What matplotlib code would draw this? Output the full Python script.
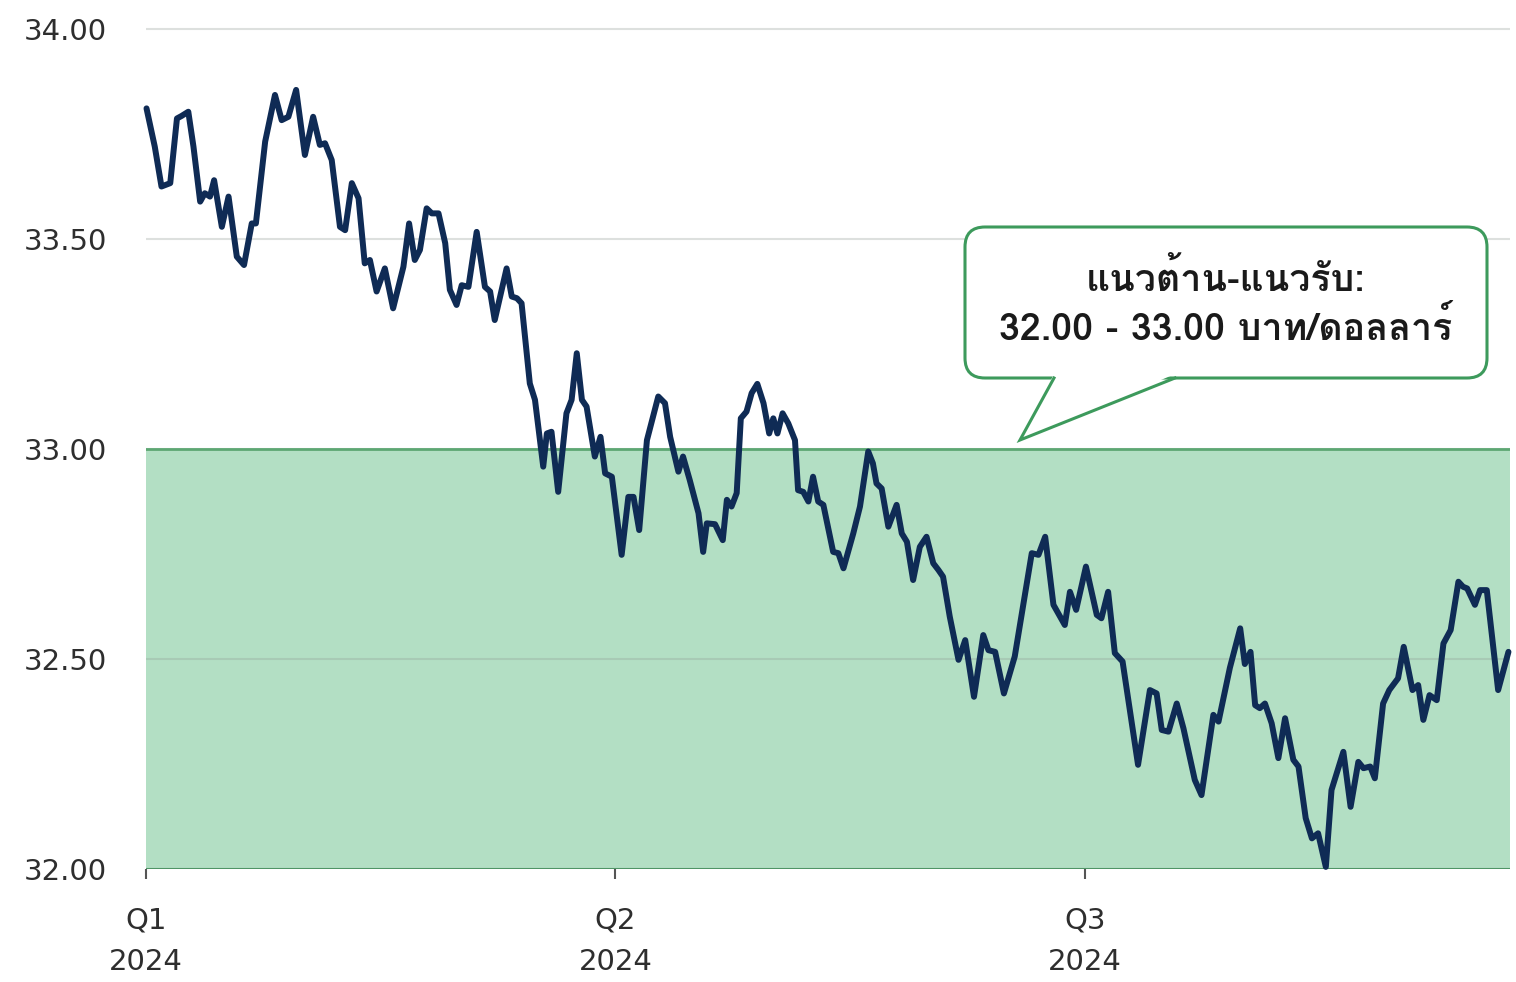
import numpy as np
import matplotlib
matplotlib.use("Agg")
import matplotlib.pyplot as plt
from matplotlib import font_manager
from matplotlib.ft2font import FT2Font
from matplotlib.patches import FancyBboxPatch, Polygon

# days since 1 Jan 2024, USD/THB
days = [0.1, 1.7, 3.0, 4.7, 6.0, 6.9, 8.2, 9.2, 10.5, 11.4, 12.4, 13.2, 14.7, 16.0, 17.6, 19.0,
        20.5, 21.3, 23.1, 25.0, 26.3, 27.6, 29.1, 30.8, 32.4, 33.7, 34.7, 36.0, 37.6, 38.6, 39.9,
        41.2, 42.4, 43.4, 44.7, 46.3, 47.9, 49.9, 51.0, 52.1, 53.1, 54.4, 55.4, 56.7, 58.0, 58.9,
        60.2, 61.2, 62.5, 64.1, 65.7, 66.7, 67.6, 69.9, 70.9, 71.9, 72.8, 74.4, 75.4, 77.0, 77.7,
        78.6, 79.9, 81.5, 82.5, 83.5, 84.5, 85.4, 87.0, 88.1, 89.0, 90.3, 92.2, 93.5, 94.5, 95.6,
        97.1, 99.3, 100.6, 101.6, 103.2, 104.1, 105.4, 107.1, 108.0, 108.7, 110.3, 111.8, 112.6,
        113.5, 114.5, 115.3, 116.4, 117.4, 118.5, 119.7, 120.8, 121.6, 122.4, 123.4, 124.5, 125.8,
        126.4, 127.4, 128.4, 129.3, 130.3, 131.3, 133.2, 134.2, 135.2, 137.1, 138.4, 140.0, 140.9,
        141.6, 142.6, 143.9, 145.5, 146.5, 147.5, 148.7, 150.0, 151.3, 152.6, 153.6, 154.5, 155.8,
        157.5, 158.8, 160.5, 162.3, 163.3, 164.6, 166.3, 168.4, 171.7, 173.0, 174.3, 175.9, 178.1,
        179.1, 180.3, 182.2, 184.3, 185.2, 186.5, 187.8, 189.3, 192.3, 194.6, 195.9, 196.9, 198.2,
        199.8, 201.1, 203.3, 204.6, 206.9, 207.9, 210.1, 212.1, 213.0, 214.1, 215.0, 215.9, 216.9,
        218.2, 219.5, 220.8, 222.4, 223.4, 224.8, 226.0, 227.2, 228.7, 229.8, 232.1, 233.5, 235.0,
        236.0, 237.3, 238.2, 239.8, 241.0, 242.7, 243.8, 245.5, 246.6, 247.6, 248.8, 250.2, 251.5,
        252.9, 254.4, 255.3, 256.1, 257.6, 258.6, 259.9, 262.1, 264.1]
rate = [33.811, 33.720, 33.625, 33.633, 33.787, 33.793, 33.803, 33.720, 33.589, 33.609, 33.601,
        33.640, 33.529, 33.601, 33.458, 33.438, 33.537, 33.537, 33.732, 33.843, 33.783, 33.791,
        33.855, 33.700, 33.791, 33.724, 33.728, 33.688, 33.529, 33.521, 33.633, 33.597, 33.442,
        33.450, 33.375, 33.430, 33.335, 33.434, 33.537, 33.450, 33.474, 33.573, 33.561, 33.561,
        33.490, 33.379, 33.343, 33.390, 33.386, 33.517, 33.386, 33.375, 33.307, 33.430, 33.363,
        33.359, 33.347, 33.156, 33.117, 32.958, 33.037, 33.041, 32.898, 33.085, 33.117, 33.228,
        33.117, 33.101, 32.982, 33.029, 32.942, 32.934, 32.748, 32.886, 32.886, 32.807, 33.021,
        33.125, 33.109, 33.029, 32.946, 32.982, 32.926, 32.847, 32.755, 32.823, 32.821, 32.783,
        32.879, 32.863, 32.895, 33.073, 33.089, 33.133, 33.155, 33.109, 33.037, 33.073, 33.037,
        33.085, 33.061, 33.021, 32.902, 32.898, 32.875, 32.934, 32.875, 32.867, 32.755, 32.752,
        32.716, 32.799, 32.863, 32.994, 32.966, 32.918, 32.906, 32.815, 32.867, 32.799, 32.779,
        32.688, 32.767, 32.791, 32.728, 32.712, 32.696, 32.601, 32.498, 32.545, 32.410, 32.557,
        32.521, 32.517, 32.418, 32.506, 32.752, 32.748, 32.791, 32.629, 32.581, 32.660, 32.617,
        32.720, 32.605, 32.597, 32.660, 32.514, 32.494, 32.248, 32.426, 32.418, 32.331, 32.327,
        32.394, 32.335, 32.212, 32.176, 32.367, 32.351, 32.479, 32.573, 32.488, 32.517, 32.390,
        32.383, 32.394, 32.347, 32.264, 32.359, 32.260, 32.244, 32.121, 32.073, 32.085, 32.005,
        32.188, 32.279, 32.148, 32.255, 32.240, 32.244, 32.216, 32.394, 32.426, 32.454, 32.529,
        32.426, 32.438, 32.355, 32.414, 32.402, 32.537, 32.569, 32.684, 32.672, 32.668, 32.629,
        32.664, 32.664, 32.426, 32.517]

band_low, band_high = 32.00, 33.00
y_ticks = [32.0, 32.5, 33.0, 33.5, 34.0]
q_days = [0, 91, 182]
q_labels = ["Q1\n2024", "Q2\n2024", "Q3\n2024"]
callout_lines = "แนวต้าน-แนวรับ:\n32.00 - 33.00 บาท/ดอลลาร์"


def find_thai_font():
    for path in sorted(font_manager.findSystemFonts()):
        try:
            if 0x0E01 in FT2Font(path).get_charmap():
                return font_manager.FontProperties(fname=path).get_name()
        except Exception:
            continue
    return None


thai = find_thai_font()
thai_family = [thai, "DejaVu Sans"] if thai else ["DejaVu Sans"]

fig = plt.figure(figsize=(15.16, 9.82), dpi=100)
ax = fig.add_axes([146 / 1516, 113 / 982, 1364 / 1516, 861 / 982])
ax.set_xlim(0, 264.4)
ax.set_ylim(32, 34.05)

ax.axhspan(band_low, band_high, color="#b3dfc4", zorder=1, lw=0)
for y in y_ticks:
    ax.axhline(y, color="#8f9a94", alpha=0.3, lw=1.5, zorder=2)
ax.axhline(band_high, color="#5da773", lw=2, zorder=3)
ax.axhline(band_low, color="#4f9566", lw=2.2, zorder=3)

ax.plot(days, rate, color="#0f2b55", lw=4.3, solid_joinstyle="round",
        solid_capstyle="round", zorder=4, clip_on=False)

for s in ax.spines.values():
    s.set_visible(False)
ax.set_yticks(y_ticks)
ax.set_yticklabels([f"{v:.2f}" for v in y_ticks])
ax.set_xticks(q_days)
ax.set_xticklabels(q_labels, linespacing=1.6)
ax.tick_params(axis="y", length=0, pad=28, labelsize=21, labelcolor="#2e2e2e")
ax.tick_params(axis="x", length=7, width=1.5, color="#555555", pad=20,
               labelsize=21, labelcolor="#2e2e2e")

# callout box in pixel space
ov = fig.add_axes([0, 0, 1, 1])
ov.set_xlim(0, 1516)
ov.set_ylim(982, 0)
ov.axis("off")
green = "#3d9a5c"
box = FancyBboxPatch((965, 227), 522, 151, boxstyle="round,pad=0,rounding_size=20",
                     fc="white", ec=green, lw=2.2, zorder=5)
ov.add_patch(box)
ov.add_patch(Polygon([(1054, 374), (1020, 440), (1175, 374)], closed=True,
                     fc="white", ec="none", zorder=6))
ov.plot([1054, 1020, 1175], [378, 440, 378], color=green, lw=2.2, zorder=7,
        solid_joinstyle="miter")
ov.text(1226, 303, callout_lines, ha="center", va="center", fontsize=27,
        family=thai_family, fontweight="bold", color="#1a1a1a",
        linespacing=1.3, zorder=8)

fig.savefig("out.png", dpi=100)
